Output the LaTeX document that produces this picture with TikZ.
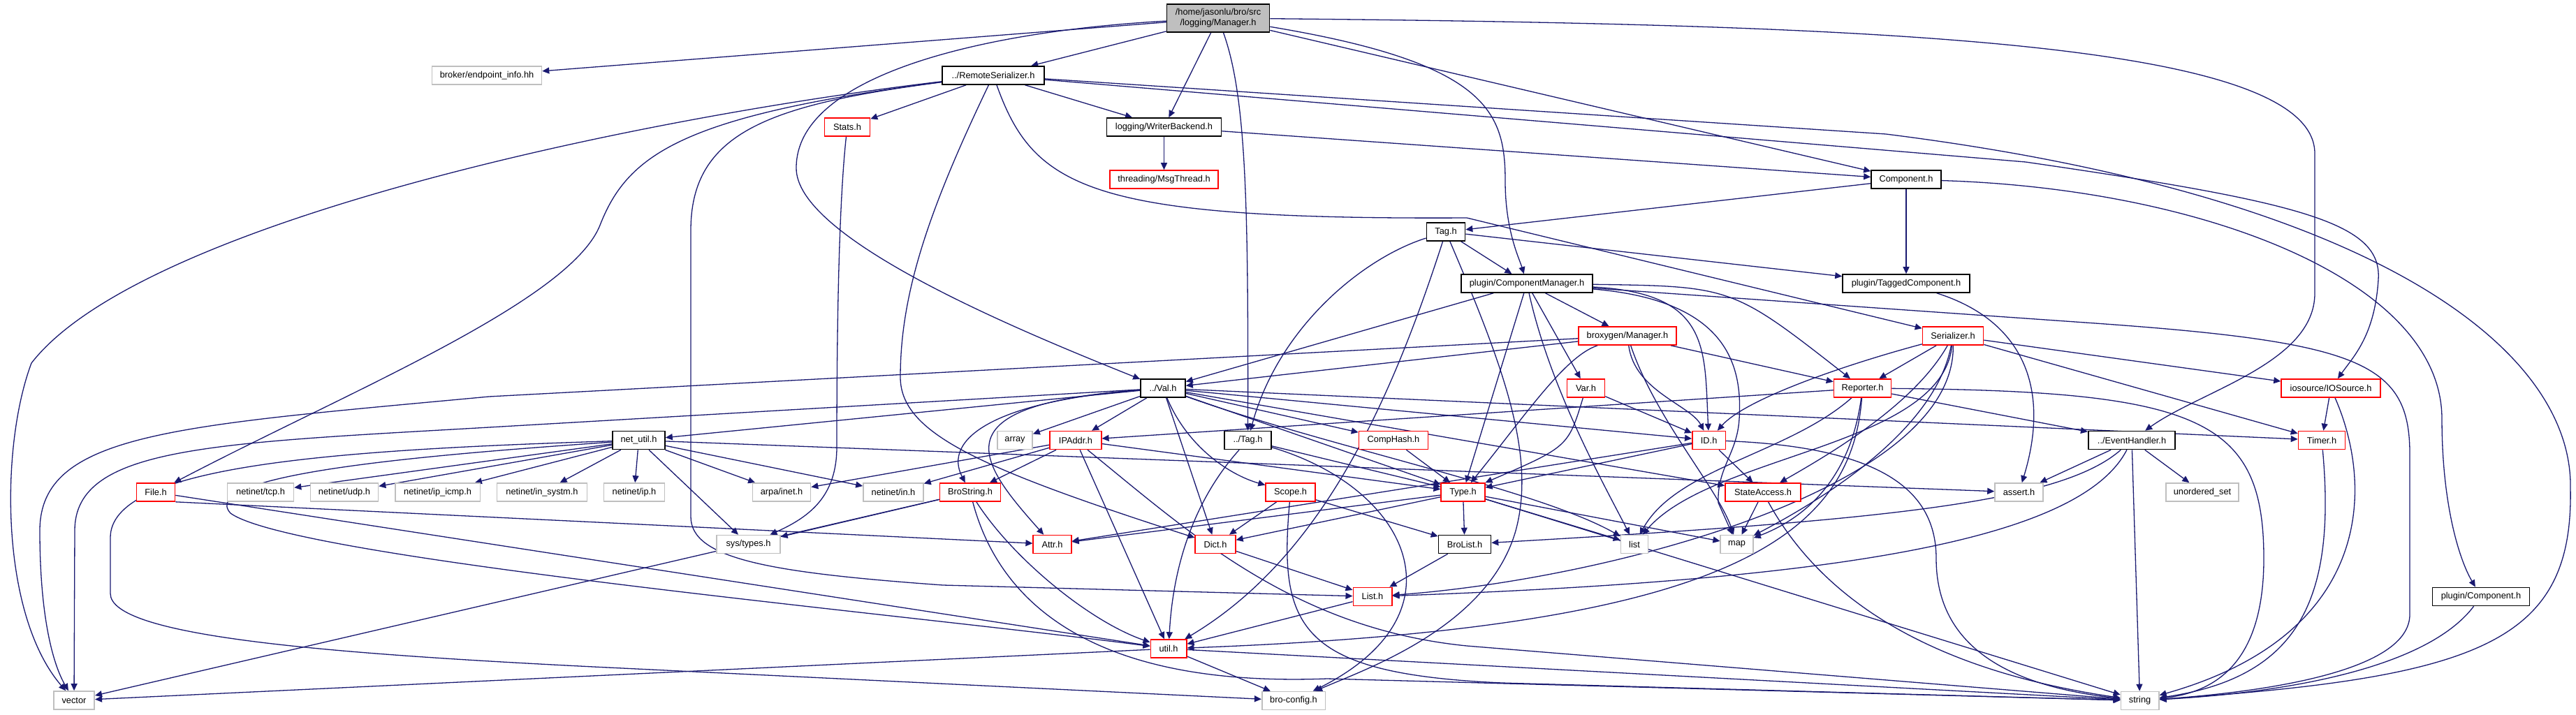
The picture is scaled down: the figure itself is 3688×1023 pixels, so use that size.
\documentclass[tikz,border=0pt]{standalone}
\usepackage{fontspec}
\setmainfont{Liberation Sans}
\usetikzlibrary{arrows.meta}
\definecolor{edgeblue}{HTML}{191970}
\definecolor{boxgray}{HTML}{BFBFBF}
\definecolor{boxred}{HTML}{FF0000}
\pgfdeclarelayer{bg}
\pgfsetlayers{bg,main}
\tikzset{
  hbox/.style={draw=black, fill=white, line width=1.6pt, minimum height=26pt, inner sep=0pt, font=\fontsize{12.8}{15}\selectfont},
  redbox/.style={hbox, draw=boxred},
  graybox/.style={hbox, draw=boxgray},
  dep/.style={draw=edgeblue, line width=1.3pt, -{Triangle[length=10pt,width=9pt]}},
}
\begin{document}
\begin{tikzpicture}[x=1pt, y=-1pt]
\useasboundingbox (0,0) rectangle (3688,1023);

\node[hbox, fill=boxgray, minimum width=147pt, minimum height=40pt, align=center] (mgr) at (1744,26) {/home/jasonlu/bro/src\\/logging/Manager.h};
\node[graybox, minimum width=157pt] (ep) at (697,108) {broker/endpoint\_info.hh};
\node[hbox, minimum width=146pt] (rs) at (1422,108) {../RemoteSerializer.h};
\node[redbox, minimum width=65pt] (stats) at (1213,182) {Stats.h};
\node[hbox, minimum width=164pt] (wb) at (1666.5,182) {logging/WriterBackend.h};
\node[redbox, minimum width=155pt] (mt) at (1666.5,257) {threading/MsgThread.h};
\node[hbox, minimum width=100pt] (comp) at (2729,257) {Component.h};
\node[hbox, minimum width=55pt] (tag) at (2070,332) {Tag.h};
\node[hbox, minimum width=182pt] (tagc) at (2729,406) {plugin/TaggedComponent.h};
\node[hbox, minimum width=188pt] (cm) at (2186,406) {plugin/ComponentManager.h};
\node[redbox, minimum width=140pt] (bxm) at (2330,481) {broxygen/Manager.h};
\node[redbox, minimum width=87pt] (ser) at (2796,481) {Serializer.h};
\node[hbox, minimum width=64pt] (val) at (1665,556) {../Val.h};
\node[redbox, minimum width=54pt] (var) at (2270.5,556) {Var.h};
\node[redbox, minimum width=82pt] (rep) at (2666.5,556) {Reporter.h};
\node[redbox, minimum width=142pt] (ios) at (3337,556) {iosource/IOSource.h};
\node[hbox, minimum width=75pt] (netu) at (914.5,630.5) {net\_util.h};
\node[graybox, minimum width=50pt] (arr) at (1453,630.5) {array};
\node[redbox, minimum width=73.5pt] (ipa) at (1540,630.5) {IPAddr.h};
\node[hbox, minimum width=67pt] (vtag) at (1786.5,630.5) {../Tag.h};
\node[redbox, minimum width=99pt] (chash) at (1995,630.5) {CompHash.h};
\node[redbox, minimum width=47.5pt] (id) at (2446.6,630.5) {ID.h};
\node[hbox, minimum width=124.5pt] (eh) at (3052,630.5) {../EventHandler.h};
\node[redbox, minimum width=67pt] (timer) at (3324,630.5) {Timer.h};
\node[redbox, minimum width=55pt] (fileh) at (223,705) {File.h};
\node[graybox, minimum width=95pt] (tcp) at (373,705) {netinet/tcp.h};
\node[graybox, minimum width=97pt] (udp) at (493,705) {netinet/udp.h};
\node[graybox, minimum width=121.6pt] (icmp) at (626.6,705) {netinet/ip\_icmp.h};
\node[graybox, minimum width=129pt] (insys) at (776,705) {netinet/in\_systm.h};
\node[graybox, minimum width=87pt] (ip) at (908,705) {netinet/ip.h};
\node[graybox, minimum width=83pt] (arpa) at (1119,705) {arpa/inet.h};
\node[graybox, minimum width=86pt] (inh) at (1279,705) {netinet/in.h};
\node[redbox, minimum width=87pt] (bstr) at (1389,705) {BroString.h};
\node[redbox, minimum width=71pt] (scope) at (1847.6,705) {Scope.h};
\node[redbox, minimum width=62.5pt] (type) at (2094.5,705) {Type.h};
\node[redbox, minimum width=108pt] (sa) at (2524,705) {StateAccess.h};
\node[graybox, minimum width=69pt] (assert) at (2890.5,705) {assert.h};
\node[graybox, minimum width=104pt] (uset) at (3153,705) {unordered\_set};
\node[graybox, minimum width=90.6pt] (syst) at (1071.5,779.5) {sys/types.h};
\node[redbox, minimum width=54.6pt] (attr) at (1506.5,779.5) {Attr.h};
\node[redbox, minimum width=57.7pt] (dict) at (1740,779.5) {Dict.h};
\node[hbox, minimum width=75pt] (blist) at (2097,779.5) {BroList.h};
\node[graybox, minimum width=39pt] (list) at (2340,779.5) {list};
\node[graybox, minimum width=46.7pt] (map) at (2486.6,779.5) {map};
\node[redbox, minimum width=55.4pt] (listh) at (1965,854.4) {List.h};
\node[hbox, minimum width=138.7pt] (pcomp) at (3552,854.4) {plugin/Component.h};
\node[redbox, minimum width=51.4pt] (util) at (1673,929) {util.h};
\node[graybox, minimum width=58.5pt] (vector) at (106,1003) {vector};
\node[graybox, minimum width=90.6pt] (bcfg) at (1852,1003.5) {bro-config.h};
\node[graybox, minimum width=54.4pt] (string) at (3063.6,1003.5) {string};

\begin{pgfonlayer}{bg}
% logging/Manager.h
\draw[dep] (mgr) -- (ep);
\draw[dep] (mgr) -- (rs);
\draw[dep] (mgr) -- (wb);
\draw[dep] (mgr) .. controls (1400,45) and (1140,110) .. (1140,240) .. controls (1138,340) and (1450,470) .. (val);
\draw[dep] (mgr) .. controls (1785,140) and (1787,300) .. (vtag);
\draw[dep] (mgr) .. controls (2130,90) and (2155,160) .. (2155,260) .. controls (2155,330) and (2175,370) .. (cm);
\draw[dep] (mgr) -- (comp);
\draw[dep] (mgr) .. controls (2700,35) and (3314,60) .. (3314,220) -- (3314,420) .. controls (3314,520) and (3150,560) .. (eh);
% RemoteSerializer.h
\draw[dep] (rs) -- (stats);
\draw[dep] (rs) -- (wb);
\draw[dep] (rs) .. controls (900,170) and (200,320) .. (45,520) .. controls (0,640) and (0,880) .. (vector);
\draw[dep] (rs) .. controls (980,165) and (900,220) .. (860,320) .. controls (820,430) and (500,560) .. (fileh);
\draw[dep] (rs) .. controls (1330,300) and (1289,420) .. (1289,540) .. controls (1289,620) and (1400,670) .. (dict);
\draw[dep] (rs) .. controls (1100,150) and (989,190) .. (989,330) -- (989,740) .. controls (989,800) and (1100,820) .. (1350,838) -- (listh);
\draw[dep] (rs) .. controls (1480,270) and (1560,315) .. (2100,312) -- (ser);
\draw[dep] (rs) -- (2900,232) .. controls (3300,290) and (3410,320) .. (3405,400) .. controls (3400,480) and (3370,510) .. (ios);
\draw[dep] (rs) -- (2700,192) .. controls (3400,280) and (3684,500) .. (3680,700) .. controls (3684,920) and (3550,970) .. (string);
% logging/WriterBackend.h, Component.h, Tag.h
\draw[dep] (wb) -- (mt);
\draw[dep] (wb) -- (comp);
\draw[dep] (comp) -- (tag);
\draw[dep] (comp) -- (tagc);
\draw[dep] (comp) .. controls (3150,270) and (3496,400) .. (3496,600) .. controls (3496,720) and (3520,800) .. (pcomp);
\draw[dep] (tag) -- (cm);
\draw[dep] (tag) -- (tagc);
\draw[dep] (tag) .. controls (1950,370) and (1830,470) .. (vtag);
\draw[dep] (tag) .. controls (1990,580) and (1890,800) .. (util);
\draw[dep] (tag) .. controls (2150,520) and (2200,650) .. (2170,760) .. controls (2130,900) and (1950,960) .. (bcfg);
\draw[dep] (tagc) .. controls (2900,460) and (2935,560) .. (assert);
% plugin/ComponentManager.h
\draw[dep] (cm) -- (bxm);
\draw[dep] (cm) -- (val);
\draw[dep] (cm) -- (type);
\draw[dep] (cm) .. controls (2220,560) and (2300,700) .. (list);
\draw[dep] (cm) -- (var);
\draw[dep] (cm) .. controls (2450,420) and (2440,500) .. (id);
\draw[dep] (cm) .. controls (2480,410) .. (rep);
\draw[dep] (cm) .. controls (2470,430) and (2495,520) .. (2490,600) .. controls (2487,650) and (2458,670) .. (2460,720) -- (map);
\draw[dep] (cm) -- (3000,463) .. controls (3380,490) and (3450,520) .. (3450,650) -- (3450,880) .. controls (3450,960) and (3250,990) .. (string);
% broxygen/Manager.h
\draw[dep] (bxm) -- (val);
\draw[dep] (bxm) -- (700,568) .. controls (250,610) and (57,620) .. (57,760) .. controls (57,880) and (75,950) .. (vector);
\draw[dep] (bxm) .. controls (2240,510) and (2180,600) .. (type);
\draw[dep] (bxm) .. controls (2340,560) and (2420,580) .. (id);
\draw[dep] (bxm) -- (rep);
\draw[dep] (bxm) .. controls (2370,600) and (2460,700) .. (map);
% Serializer.h
\draw[dep] (ser) -- (ios);
\draw[dep] (ser) -- (timer);
\draw[dep] (ser) .. controls (2650,520) and (2500,570) .. (id);
\draw[dep] (ser) -- (rep);
\draw[dep] (ser) .. controls (2740,580) and (2620,650) .. (sa);
\draw[dep] (ser) .. controls (2770,620) and (2600,720) .. (map);
\draw[dep] (ser) .. controls (2780,640) and (2450,650) .. (list);
\draw[dep] (ser) .. controls (2800,700) and (2300,830) .. (listh);
% ../Val.h
\draw[dep] (val) -- (netu);
\draw[dep] (val) -- (700,612) .. controls (300,635) and (107,640) .. (107,760) -- (vector);
\draw[dep] (val) -- (arr);
\draw[dep] (val) -- (ipa);
\draw[dep] (val) .. controls (1340,580) and (1400,660) .. (attr);
\draw[dep] (val) .. controls (1420,575) and (1350,630) .. (bstr);
\draw[dep] (val) -- (dict);
\draw[dep] (val) -- (type);
\draw[dep] (val) -- (chash);
\draw[dep] (val) -- (id);
\draw[dep] (val) -- (timer);
\draw[dep] (val) .. controls (1700,640) and (1760,680) .. (scope);
\draw[dep] (val) -- (sa);
\draw[dep] (val) .. controls (1900,640) and (2200,700) .. (list);
% net_util.h
\foreach \t in {tcp,udp,icmp,insys,ip,arpa,syst,inh}
  \draw[dep] (netu) -- (\t);
\draw[dep] (netu) -- (assert);
\draw[dep] (netu) .. controls (600,652) and (280,680) .. (330,735) .. controls (420,800) and (1300,880) .. (util);
\draw[dep] (netu) .. controls (450,645) and (158,670) .. (158,770) -- (158,850) .. controls (158,910) and (450,935) .. (850,955) -- (bcfg);
% IPAddr.h, BroString.h, File.h, Stats.h
\draw[dep] (ipa) -- (inh);
\draw[dep] (ipa) -- (arpa);
\draw[dep] (ipa) -- (bstr);
\draw[dep] (ipa) -- (util);
\draw[dep] (ipa) -- (type);
\draw[dep] (ipa) .. controls (1700,760) and (1850,900) .. (2100,925) -- (string);
\draw[dep] (bstr) -- (vector);
\draw[dep] (bstr) -- (syst);
\draw[dep] (bstr) .. controls (1450,800) and (1560,890) .. (util);
\draw[dep] (bstr) .. controls (1430,860) and (1560,985) .. (1900,972) -- (string);
\draw[dep] (fileh.south east) -- (attr);
\draw[dep] (fileh) -- (util);
\draw[dep] (stats) .. controls (1200,300) and (1198,500) .. (1198,640) .. controls (1198,710) and (1160,740) .. (syst);
% ../Tag.h, CompHash.h, Scope.h, Var.h
\draw[dep] (vtag) .. controls (1715,710) and (1680,800) .. (util);
\draw[dep] (vtag) -- (type);
\draw[dep] (vtag) .. controls (2020,700) and (2100,880) .. (bcfg);
\draw[dep] (chash) -- (type);
\draw[dep] (scope) -- (dict);
\draw[dep] (scope) -- (blist);
\draw[dep] (scope) .. controls (1830,900) and (1860,965) .. (2150,978) -- (string);
\draw[dep] (var) -- (id);
\draw[dep] (var) .. controls (2245,640) .. (type);
% Type.h, ID.h, StateAccess.h
\draw[dep] (type) -- (blist);
\draw[dep] (type) -- (list);
\draw[dep] (type) -- (map);
\draw[dep] (type) -- (attr);
\draw[dep] (type) -- (dict);
\draw[dep] (type) -- (string);
\draw[dep] (id) -- (attr);
\draw[dep] (id) -- (type);
\draw[dep] (id) -- (sa);
\draw[dep] (id) .. controls (2690,640) and (2772,700) .. (2772,800) .. controls (2772,940) and (2900,985) .. (string);
\draw[dep] (sa) -- (map);
\draw[dep] (sa) .. controls (2620,880) and (2800,965) .. (string);
% Reporter.h
\draw[dep] (rep) -- (ipa);
\draw[dep] (rep) -- (eh);
\draw[dep] (rep) .. controls (2650,680) and (2590,740) .. (map);
\draw[dep] (rep) .. controls (2560,650) and (2400,670) .. (list);
\draw[dep] (rep) .. controls (2650,780) and (2450,900) .. (util);
\draw[dep] (rep) .. controls (3150,560) and (3241,600) .. (3241,800) .. controls (3241,940) and (3180,990) .. (string);
% iosource/IOSource.h, Timer.h, plugin/Component.h, ../EventHandler.h
\draw[dep] (ios) -- (timer);
\draw[dep] (ios) .. controls (3400,700) and (3395,910) .. (string);
\draw[dep] (timer) .. controls (3345,860) and (3290,970) .. (string);
\draw[dep] (pcomp) .. controls (3480,950) and (3300,990) .. (string);
\draw[dep] (eh) -- (assert);
\draw[dep] (eh) -- (uset);
\draw[dep] (eh) -- (string);
\draw[dep] (eh) .. controls (2950,720) and (2700,745) .. (blist);
\draw[dep] (eh) .. controls (2980,770) and (2650,830) .. (listh);
% Dict.h, BroList.h, List.h, util.h
\draw[dep] (dict) -- (listh);
\draw[dep] (blist) -- (listh);
\draw[dep] (listh) -- (util);
\draw[dep] (util) -- (vector);
\draw[dep] (util) -- (bcfg);
\draw[dep] (util) -- (string);
\end{pgfonlayer}
\end{tikzpicture}
\end{document}
